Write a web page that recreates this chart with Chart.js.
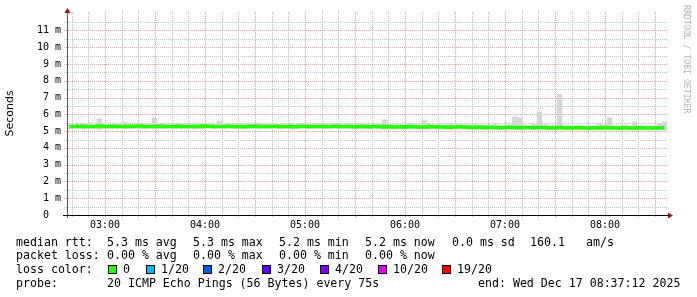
<!DOCTYPE html>
<html>
<head>
<meta charset="utf-8">
<script src="https://cdn.jsdelivr.net/npm/chart.js@4.4.1/dist/chart.umd.min.js"></script>
<style>
  html, body { margin: 0; padding: 0; background: #fff; }
  #wrap { position: relative; width: 697px; height: 297px; overflow: hidden; background: #fff; }
  #c { position: absolute; left: 0; top: 0; }
  .lg { position: absolute; font-family: "DejaVu Sans Mono", monospace; font-size: 11.6px; line-height: 14px; color: #000; white-space: pre; }
  .box { position: absolute; width: 7px; height: 7px; border: 1px solid #000; }
  #wm { position: absolute; left: 682px; top: 5px; font-family: "DejaVu Sans Mono", monospace; font-size: 8.2px; line-height: 9px; color: #b4b4b4; writing-mode: vertical-rl; white-space: pre; }
</style>
</head>
<body>
<div id="wrap">
  <canvas id="c" width="697" height="297"></canvas>
  <div id="wm">RRDTOOL / TOBI OETIKER</div>
  <div id="legend"></div>
</div>
<script>
// ---- data (minutes after 02:37:12, one sample per 3 minutes) ----
const startLabel = "02:37:12";
const stepMinutes = 3;
const medianMs = [
  5.28,5.27,5.29,5.28,5.27,5.28,5.30,5.28,5.27,5.29, 5.28,5.28,5.27,5.29,5.30,5.28,5.27,5.28,5.29,5.28,
  5.27,5.28,5.29,5.28,5.27,5.27,5.28,5.30,5.29,5.28, 5.27,5.28,5.29,5.28,5.27,5.26,5.28,5.29,5.28,5.27,
  5.28,5.29,5.28,5.27,5.28,5.26,5.28,5.29,5.28,5.27, 5.28,5.27,5.28,5.29,5.28,5.27,5.28,5.26,5.28,5.27,
  5.26,5.28,5.27,5.25,5.27,5.24,5.26,5.25,5.27,5.26, 5.24,5.25,5.27,5.26,5.24,5.25,5.23,5.25,5.26,5.24,
  5.23,5.22,5.24,5.21,5.23,5.22,5.20,5.22,5.23,5.21, 5.20,5.22,5.21,5.20,5.22,5.21,5.20,5.19,5.21,5.20,
  5.19,5.20,5.21,5.19,5.18,5.20,5.19,5.21,5.20,5.19, 5.18,5.20,5.19,5.18,5.20,5.19,5.18,5.19,5.20,5.19
];
const smokeHighMs = [
  5.40,5.38,5.42,5.45,5.40,5.38,5.75,5.45,5.40,5.42, 5.38,5.55,5.40,5.42,5.45,5.38,5.40,5.80,5.42,5.40,
  5.38,5.40,5.45,5.40,5.38,5.40,5.42,5.45,5.40,5.38, 5.60,5.42,5.40,5.38,5.40,5.38,5.45,5.40,5.45,5.40,
  5.40,5.45,5.40,5.38,5.40,5.38,5.40,5.45,5.40,5.38, 5.42,5.40,5.38,5.40,5.42,5.38,5.40,5.38,5.42,5.45,
  5.38,5.40,5.42,5.67,5.40,5.38,5.40,5.38,5.43,5.40, 5.38,5.63,5.40,5.38,5.40,5.38,5.45,5.38,5.40,5.38,
  5.35,5.38,5.35,5.33,5.35,5.45,5.33,5.35,5.38,5.85, 5.80,5.35,5.33,5.40,6.15,5.38,5.33,5.35,7.20,5.33,
  5.32,5.30,5.33,5.30,5.32,5.30,5.45,5.33,5.80,5.32, 5.30,5.35,5.30,5.55,5.32,5.30,5.33,5.30,5.40,5.55
];
const smokeLowMs = [
  5.15,5.18,5.17,5.12,5.18,5.16,5.12,5.17,5.18,5.15, 5.17,5.14,5.18,5.16,5.17,5.15,5.18,5.13,5.17,5.16,
  5.18,5.15,5.17,5.16,5.18,5.13,5.17,5.16,5.18,5.15, 5.17,5.16,5.18,5.15,5.17,5.14,5.16,5.18,5.15,5.17,
  5.16,5.18,5.15,5.17,5.16,5.12,5.17,5.18,5.15,5.16, 5.17,5.14,5.16,5.18,5.15,5.16,5.17,5.13,5.16,5.15,
  5.14,5.16,5.15,5.12,5.15,5.13,5.14,5.12,5.15,5.14, 5.12,5.13,5.15,5.14,5.12,5.11,5.12,5.13,5.14,5.12,
  5.11,5.10,5.12,5.09,5.11,5.10,5.08,5.10,5.11,5.09, 5.08,5.10,5.09,5.06,5.10,5.08,5.07,5.08,5.09,5.08,
  5.07,5.08,5.09,5.07,5.06,5.08,5.07,5.09,5.08,5.07, 5.06,5.08,5.07,5.06,5.08,5.07,5.06,5.07,5.08,5.07
];
const hourLabels = ["03:00","04:00","05:00","06:00","07:00","08:00"];
const yTickLabels = ["0  ","1 m","2 m","3 m","4 m","5 m","6 m","7 m","8 m","9 m","10 m","11 m"];

const lossLevels = ["0","1/20","2/20","3/20","4/20","10/20","19/20"];
const lossColors = ["#26ff00","#00b8ff","#0059ff","#5e00ff","#7e00ff","#dd00ff","#ff0000"];

// ---- legend text (HTML) ----
const legend = document.getElementById('legend');
const rows = [234.5, 248.3, 262.1, 275.9];
function txt(x, row, s){
  const d = document.createElement('div');
  d.className = 'lg'; d.style.left = x + 'px'; d.style.top = rows[row] + 'px'; d.textContent = s;
  legend.appendChild(d);
}
txt(16, 0, "median rtt:");
txt(107, 0, "5.3 ms avg");
txt(193, 0, "5.3 ms max");
txt(279, 0, "5.2 ms min");
txt(365, 0, "5.2 ms now");
txt(452, 0, "0.0 ms sd");
txt(530, 0, "160.1");
txt(586, 0, "am/s");
txt(16, 1, "packet loss:");
txt(107, 1, "0.00 % avg");
txt(193, 1, "0.00 % max");
txt(279, 1, "0.00 % min");
txt(365, 1, "0.00 % now");
txt(16, 2, "loss color:");
const boxX = [108, 146, 203, 262, 320, 378, 442];
lossLevels.forEach((lv, i) => {
  const b = document.createElement('div');
  b.className = 'box'; b.style.left = boxX[i] + 'px'; b.style.top = '265px'; b.style.background = lossColors[i];
  legend.appendChild(b);
  txt(boxX[i] + 15, 2, lv);
});
txt(16, 3, "probe:");
txt(107, 3, "20 ICMP Echo Pings (56 Bytes) every 75s");
txt(478, 3, "end: Wed Dec 17 08:37:12 2025");

// ---- derived ----
const startMinOfDay = 2*60 + 37.2;
const sampleX = medianMs.map((_, i) => i*stepMinutes + stepMinutes/2);
const medianPts = medianMs.map((v, i) => ({x: sampleX[i], y: v}));
const smokePts = medianMs.map((_, i) => ({x: sampleX[i], y: [smokeLowMs[i], smokeHighMs[i]]}));

const MAJOR = "#eda0a0";
const MINOR = "#c4c4c4";

function xIsHour(v){ const t = startMinOfDay + v; return Math.abs(t/60 - Math.round(t/60)) < 1e-3; }
function xIsHalf(v){ const t = startMinOfDay + v; return Math.abs(t/30 - Math.round(t/30)) < 1e-3; }
function yIsMajor(v){ return Math.abs(v - Math.round(v)) < 1e-6; }

// dotted RRD-style grid, positioned by the chart's own scales
const gridPlugin = {
  id: 'rrdGrid',
  beforeDatasetsDraw(chart){
    const {ctx, chartArea: a, scales} = chart;
    ctx.save();
    ctx.lineWidth = 1;
    ctx.setLineDash([1, 1]);
    const draw = (major) => {
      ctx.strokeStyle = major ? MAJOR : MINOR;
      ctx.beginPath();
      scales.y.ticks.forEach(t => {
        if (yIsMajor(t.value) !== major || t.value === 0) return;
        const y = Math.round(scales.y.getPixelForValue(t.value)) + 0.5;
        ctx.moveTo(a.left - 3, y); ctx.lineTo(a.right + 1, y);
      });
      scales.x.ticks.forEach(t => {
        if (xIsHalf(t.value) !== major) return;
        const x = Math.round(scales.x.getPixelForValue(t.value)) + 0.5;
        ctx.moveTo(x, a.top); ctx.lineTo(x, a.bottom + 3);
      });
      ctx.stroke();
    };
    draw(false);
    draw(true);
    ctx.restore();
  },
  afterDraw(chart){
    const {ctx, chartArea: a} = chart;
    ctx.save();
    ctx.setLineDash([]);
    ctx.lineWidth = 1;
    ctx.strokeStyle = '#5a5a5a';
    ctx.beginPath(); ctx.moveTo(a.left + 0.5, a.top - 2); ctx.lineTo(a.left + 0.5, a.bottom + 3); ctx.stroke();
    ctx.strokeStyle = '#000';
    ctx.beginPath(); ctx.moveTo(a.left - 4, a.bottom + 0.5); ctx.lineTo(a.right + 3, a.bottom + 0.5); ctx.stroke();
    ctx.fillStyle = '#9a1010';
    ctx.beginPath(); ctx.moveTo(a.left + 0.5, a.top - 4); ctx.lineTo(a.left - 2.5, a.top + 1); ctx.lineTo(a.left + 3.5, a.top + 1); ctx.closePath(); ctx.fill();
    ctx.beginPath(); ctx.moveTo(a.right + 6, a.bottom + 0.5); ctx.lineTo(a.right + 1, a.bottom - 2.5); ctx.lineTo(a.right + 1, a.bottom + 3.5); ctx.closePath(); ctx.fill();
    ctx.restore();
  }
};

new Chart(document.getElementById('c'), {
  type: 'bar',
  data: {
    datasets: [
      { type: 'line', data: medianPts, borderColor: lossColors[0], borderWidth: 3.5, pointRadius: 0, stepped: 'middle', order: 0 },
      { type: 'bar', data: smokePts, backgroundColor: '#d6d6d6', borderWidth: 0, barPercentage: 1, categoryPercentage: 1, grouped: false, order: 1 }
    ]
  },
  options: {
    responsive: false,
    animation: false,
    devicePixelRatio: 1,
    layout: { padding: { top: 12, right: 30, bottom: 0, left: 0 } },
    plugins: { legend: { display: false }, tooltip: { enabled: false } },
    scales: {
      x: {
        type: 'linear', min: 0, max: 360, offset: false,
        afterFit(s){ s.height = 82; },
        afterBuildTicks(s){
          const t = [];
          for (let v = 2.8; v < 360; v += 10) t.push({value: v});
          s.ticks = t;
        },
        border: { display: false },
        grid: { display: false, drawTicks: false, tickLength: 0 },
        ticks: {
          autoSkip: false, maxRotation: 0, padding: 4, color: '#000',
          font: { family: 'DejaVu Sans Mono', size: 10 },
          callback: v => {
            if (!xIsHour(v)) return '';
            const idx = Math.round((startMinOfDay + v)/60) - 3;
            return hourLabels[idx] || '';
          }
        }
      },
      y: {
        type: 'linear', min: 0, max: 12.1,
        afterFit(s){ s.width = 67; },
        afterBuildTicks(s){
          const t = [];
          for (let k = 0; k < 24; k++) t.push({value: k/2});
          s.ticks = t;
        },
        border: { display: false },
        grid: { display: false, drawTicks: false, tickLength: 0 },
        ticks: {
          autoSkip: false, padding: 6, color: '#000',
          font: { family: 'DejaVu Sans Mono', size: 10 },
          callback: v => yIsMajor(v) ? (yTickLabels[Math.round(v)] || '') : ''
        },
        title: {
          display: true, text: 'Seconds', color: '#000',
          font: { family: 'DejaVu Sans', size: 11 }, padding: { top: 4, bottom: 0 }
        }
      }
    }
  },
  plugins: [gridPlugin]
});
</script>
</body>
</html>
